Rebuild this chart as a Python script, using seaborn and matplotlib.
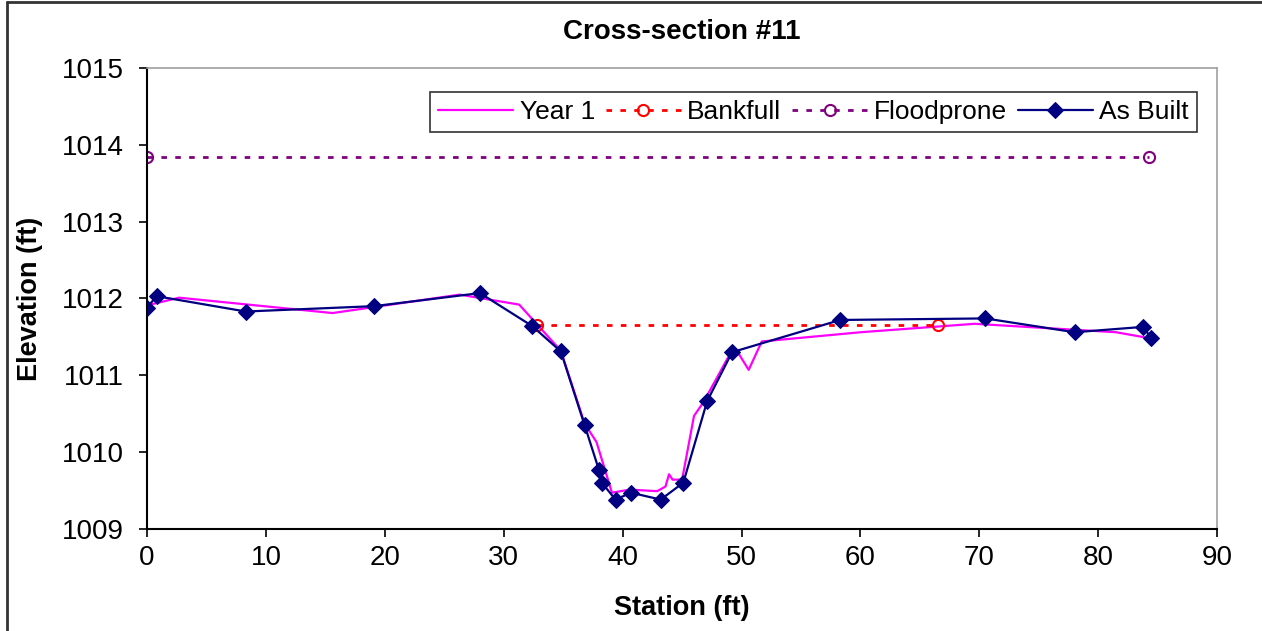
import pandas as pd
import seaborn as sns
from matplotlib import pyplot as plt
from matplotlib.lines import Line2D

# survey data
as_built_station = [0.0, 0.8, 8.3, 19.1, 28.0, 32.4, 34.8, 36.8, 38.0, 38.3, 39.4, 40.7,
                    43.2, 45.1, 47.1, 49.2, 58.3, 70.5, 78.0, 83.8, 84.4]
as_built_elev = [1011.88, 1012.03, 1011.83, 1011.90, 1012.07, 1011.64, 1011.31, 1010.35,
                 1009.77, 1009.59, 1009.38, 1009.47, 1009.38, 1009.60, 1010.66, 1011.30,
                 1011.72, 1011.74, 1011.56, 1011.63, 1011.49]

year1_station = [0.0, 2.7, 15.6, 26.3, 31.3, 34.8, 36.8, 37.8, 39.1, 40.6, 42.9, 43.6,
                 43.9, 44.2, 45.0, 46.0, 46.8, 49.0, 49.8, 50.6, 51.7, 60.0, 69.6, 81.5, 84.4]
year1_elev = [1011.91, 1012.01, 1011.81, 1012.05, 1011.92, 1011.32, 1010.37, 1010.13,
              1009.47, 1009.51, 1009.49, 1009.55, 1009.71, 1009.64, 1009.64, 1010.47,
              1010.65, 1011.27, 1011.27, 1011.07, 1011.44, 1011.56, 1011.67, 1011.56, 1011.48]

bankfull_station = [32.8, 66.5]
bankfull_elev = [1011.65, 1011.65]

floodprone_station = [0.0, 84.3]
floodprone_elev = [1013.84, 1013.84]

sns.set_style("white")
plt.rcParams["font.family"] = ["Liberation Sans", "DejaVu Sans"]
plt.rcParams["text.color"] = "black"
plt.rcParams["axes.labelcolor"] = "black"

fig, ax = plt.subplots(figsize=(12.62, 6.31), dpi=100)
fig.subplots_adjust(left=0.1165, right=0.9645, top=0.892, bottom=0.162)

year1 = pd.DataFrame({"x": year1_station, "y": year1_elev})
bank = pd.DataFrame({"x": bankfull_station, "y": bankfull_elev})
flood = pd.DataFrame({"x": floodprone_station, "y": floodprone_elev})
built = pd.DataFrame({"x": as_built_station, "y": as_built_elev})

sns.lineplot(data=year1, x="x", y="y", sort=False, ax=ax, color="#FF00FF",
             linewidth=1.6, label="Year 1")
sns.lineplot(data=bank, x="x", y="y", sort=False, ax=ax, color="#FF0000",
             linewidth=2, marker="o", markersize=8, markerfacecolor="none",
             markeredgecolor="#FF0000", markeredgewidth=1.5, label="Bankfull")
ax.lines[-1].set_dashes([2, 3])
sns.lineplot(data=flood, x="x", y="y", sort=False, ax=ax, color="#800080",
             linewidth=2, marker="o", markersize=8, markerfacecolor="none",
             markeredgecolor="#800080", markeredgewidth=1.5, label="Floodprone")
ax.lines[-1].set_dashes([2, 3])
sns.lineplot(data=built, x="x", y="y", sort=False, ax=ax, color="#000080",
             linewidth=1.6, marker="D", markersize=8, markeredgecolor="#000080",
             label="As Built")

ax.set_xlim(0, 90)
ax.set_ylim(1009, 1015)
ax.set_xticks(range(0, 91, 10))
ax.set_yticks(range(1009, 1016))
ax.tick_params(axis="both", labelsize=20, length=6, width=1.2, direction="out",
               left=True, bottom=True, colors="black")
ax.tick_params(axis="x", pad=6)
ax.tick_params(axis="y", pad=11)
for side in ("left", "bottom"):
    ax.spines[side].set_color("black")
    ax.spines[side].set_linewidth(1.5)
for side in ("top", "right"):
    ax.spines[side].set_visible(True)
    ax.spines[side].set_color("#A0A0A0")
    ax.spines[side].set_linewidth(1.2)

ax.set_title("Cross-section #11", fontsize=20, fontweight="bold", pad=21)
ax.set_xlabel("Station (ft)", fontsize=19.5, fontweight="bold", labelpad=17)
ax.set_ylabel("Elevation (ft)", fontsize=19.5, fontweight="bold", labelpad=13)

leg = ax.legend(loc="upper right", ncol=4, fontsize=19, frameon=True, fancybox=False,
                edgecolor="black", borderpad=0.3, borderaxespad=0, columnspacing=0.4,
                handlelength=2.85, handletextpad=0.25, bbox_to_anchor=(0.981, 0.948))
leg.get_frame().set_linewidth(1.2)

# partial outer frame (top and left edges only, as in the source image)
fig.add_artist(Line2D([0.0055, 1.0], [0.9968, 0.9968], transform=fig.transFigure,
                      color="#333333", linewidth=2))
fig.add_artist(Line2D([0.0055, 0.0055], [0.0, 0.9968], transform=fig.transFigure,
                      color="#333333", linewidth=2))

fig.savefig("out.png", dpi=100)
